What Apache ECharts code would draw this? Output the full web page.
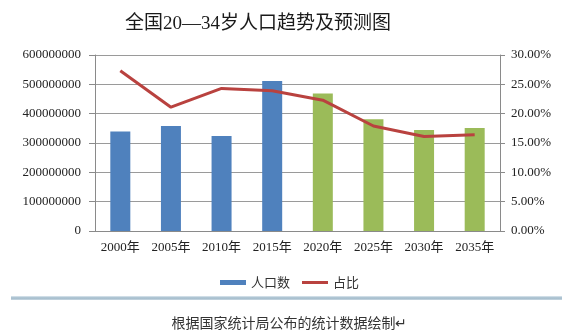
<!DOCTYPE html>
<html>
<head>
<meta charset="utf-8">
<script src="https://cdn.jsdelivr.net/npm/echarts@6/dist/echarts.min.js"></script>
<style>
html,body{margin:0;padding:0;background:#fff;}
#chart{width:579px;height:334px;}
</style>
</head>
<body>
<div id="chart"></div>
<script>
const categories = ['2000年','2005年','2010年','2015年','2020年','2025年','2030年','2035年'];
const population = [339000000, 358000000, 324000000, 511000000, 469000000, 381000000, 344000000, 351000000];
const share = [27.3, 21.1, 24.3, 23.9, 22.3, 17.9, 16.1, 16.4];
const forecastStart = 4;
const leftTicks = {min: 0, max: 600000000, interval: 100000000};
const rightTicks = {min: 0, max: 30, interval: 5};

const BLUE = '#4F81BD', GREEN = '#9BBB59', RED = '#B9423F';
const SERIF = '"Liberation Serif", "Noto Sans CJK SC", serif';

const chart = echarts.init(document.getElementById('chart'));
chart.setOption({
  animation: false,
  backgroundColor: '#fff',
  title: [{
    text: '全国20—34岁人口趋势及预测图',
    left: 120, top: 10,
    textStyle: {fontFamily: SERIF, fontSize: 19, fontWeight: 'normal', color: '#1a1a1a'}
  }, {
    text: '根据国家统计局公布的统计数据绘制↵',
    left: 'center', top: 311,
    textStyle: {fontFamily: '"Noto Sans CJK SC", sans-serif', fontSize: 14, fontWeight: 'normal', color: '#333'}
  }],
  graphic: [{
    type: 'rect',
    shape: {x: 11, y: 296, width: 551, height: 4},
    style: {fill: new echarts.graphic.LinearGradient(0, 0, 0, 1, [
      {offset: 0, color: '#dfe9f0'}, {offset: 0.5, color: '#9fb9c9'}, {offset: 1, color: '#c9d8e2'}
    ])},
    silent: true
  }],
  legend: {
    top: 271, left: 'center',
    itemWidth: 26, itemHeight: 5, itemGap: 12, symbolKeepAspect: true,
    textStyle: {fontFamily: '"Noto Sans CJK SC", sans-serif', fontSize: 13, color: '#333'},
    data: [
      {name: '人口数', icon: 'rect', itemStyle: {color: BLUE}},
      {name: '占比', icon: 'path://M0,0H26V3H0Z', itemStyle: {color: RED, borderWidth: 0}}
    ]
  },
  grid: {left: 95, right: 79, top: 55, bottom: 103},
  xAxis: {
    type: 'category', data: categories,
    axisLine: {lineStyle: {color: '#8a8a8a'}},
    axisTick: {show: false},
    axisLabel: {fontFamily: SERIF, fontSize: 13, color: '#222', margin: 10, interval: 0}
  },
  yAxis: [{
    type: 'value', min: leftTicks.min, max: leftTicks.max, interval: leftTicks.interval,
    axisLine: {show: true, lineStyle: {color: '#8a8a8a'}},
    axisTick: {show: true, length: 6, lineStyle: {color: '#8a8a8a'}},
    splitLine: {lineStyle: {color: '#9a9a9a'}},
    axisLabel: {fontFamily: SERIF, fontSize: 13, color: '#222', margin: 14,
      formatter: v => String(v)}
  }, {
    type: 'value', min: rightTicks.min, max: rightTicks.max, interval: rightTicks.interval,
    axisLine: {show: true, lineStyle: {color: '#8a8a8a'}},
    axisTick: {show: true, length: 5, lineStyle: {color: '#8a8a8a'}},
    splitLine: {show: false},
    axisLabel: {fontFamily: SERIF, fontSize: 13, color: '#222', margin: 11,
      formatter: v => v.toFixed(2) + '%'}
  }],
  series: [{
    name: '人口数', type: 'bar', data: population, barWidth: 20,
    itemStyle: {color: p => p.dataIndex < forecastStart ? BLUE : GREEN}
  }, {
    name: '占比', type: 'line', yAxisIndex: 1, data: share,
    symbol: 'none', lineStyle: {color: RED, width: 3}, itemStyle: {color: RED}
  }]
});
</script>
</body>
</html>
